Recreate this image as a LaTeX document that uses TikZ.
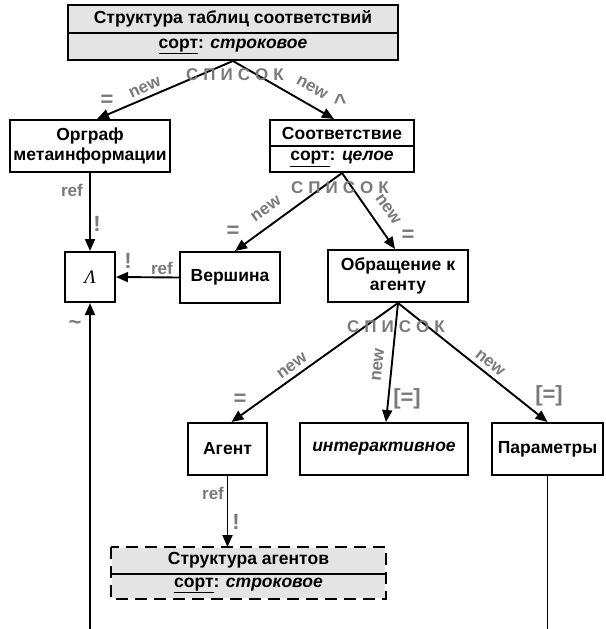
\documentclass[tikz,border=0pt]{standalone}
\usepackage{fontspec}
\setmainfont{Liberation Sans}
\newfontfamily\lamfont{Liberation Serif}
\usetikzlibrary{arrows.meta}
\definecolor{lblc}{HTML}{7A7A7A}
\definecolor{boxfill}{HTML}{E4E4E4}
\begin{document}
\begin{tikzpicture}[x=1pt,y=-1pt,
  box/.style={draw, line width=2pt, inner sep=0pt, font=\fontsize{17.5}{20}\selectfont\bfseries, align=center},
  arr/.style={line width=1.9pt, -{Triangle[length=12pt,width=10pt]}},
  ln/.style={line width=1.9pt},
  lbl/.style={text=lblc, font=\fontsize{17}{19}\selectfont\bfseries, inner sep=0pt},
  sym/.style={text=lblc, font=\fontsize{22}{24}\selectfont\bfseries, inner sep=0pt},
  spis/.style={text=lblc, font=\fontsize{17}{19}\selectfont\bfseries, inner sep=0pt},
]
\useasboundingbox (0,0) rectangle (605,629);

% nodes
\node[box, fill=boxfill, minimum width=330, minimum height=28] (t1) at (233,19) {Структура таблиц соответствий};
\node[box, fill=boxfill, minimum width=330, minimum height=27] (t2) at (233,46.5) {\underline{сорт}: \textit{строковое}};

\node[box, minimum width=160, minimum height=52] (org) at (90,146) {Орграф\\метаинформации};

\node[box, minimum width=144, minimum height=26] (s1) at (342,133) {Соответствие};
\node[box, minimum width=144, minimum height=26] (s2) at (342,159) {\underline{сорт}: \textit{целое}};

\node[box, minimum width=50, minimum height=50, font=\fontsize{19}{21}\selectfont] (lam) at (90,277) {\lamfont\itshape Λ};
\node[box, minimum width=100, minimum height=51] (ver) at (230,277.5) {Вершина};
\node[box, minimum width=140, minimum height=52] (obr) at (398,276) {Обращение к\\агенту};

\node[box, minimum width=79, minimum height=52] (ag) at (227.5,449) {Агент};
\node[box, minimum width=168, minimum height=52] (int) at (384,449) {\textit{интерактивное}};
\node[box, minimum width=111, minimum height=52] (par) at (547.5,449) {Параметры};

\node[box, draw=none, fill=boxfill, minimum width=273, minimum height=25] (sa1) at (248.5,560.5) {Структура агентов};
\node[box, draw=none, fill=boxfill, minimum width=273, minimum height=25] (sa2) at (248.5,585.5) {\underline{сорт}: \textit{строковое}};
\draw[line width=2pt, dash pattern=on 12pt off 7pt] (sa1.north west) rectangle (sa2.south east);
\draw[line width=1.4pt] (sa1.south west) -- (sa1.south east);

\coordinate (b1) at (90,629);

% connectors
\draw[arr] (t2.south) -- ([xshift=7pt]org.north);
\draw[arr] (t2.south) -- ([xshift=-8pt]s1.north);
\draw[arr] (org.south) -- (lam.north);
\draw[arr] (ver.west) -- (lam.east);
\draw[arr] (s2.south) -- ([xshift=5pt]ver.north);
\draw[arr] (s2.south) -- ([xshift=-3pt]obr.north);
\draw[arr] (obr.south) -- ([xshift=4pt]ag.north);
\draw[arr] (obr.south) -- ([xshift=2pt]int.north);
\draw[arr] (obr.south) -- (par.north);
\draw[arr] (ag.south) -- (ag.south |- sa1.north);
\draw[arr] (b1) -- (lam.south);
\draw[ln] (par.south) -- (par.south |- b1);

% labels top
\node[spis] at (235,75) {С\hspace{5pt}П\hspace{5pt}И\hspace{5pt}С\hspace{5pt}О\hspace{5pt}К};
\node[lbl, rotate=24] at (145,88) {new};
\node[sym] at (107,101) {=};
\node[lbl, rotate=-29] at (312,88) {new};
\node[sym] at (340,102) {\textasciicircum};

% labels middle
\node[spis] at (340,188) {С\hspace{5pt}П\hspace{5pt}И\hspace{5pt}С\hspace{5pt}О\hspace{5pt}К};
\node[lbl, rotate=35] at (266,209) {new};
\node[sym] at (233,232) {=};
\node[lbl, rotate=-55] at (388,209) {new};
\node[sym] at (408,236) {=};

\node[lbl] at (72,190) {ref};
\node[sym] at (97,224) {!};
\node[lbl] at (162,268) {ref};
\node[sym] at (128,261) {!};
\node[sym] at (75,325) {\textasciitilde};

% labels bottom
\node[spis] at (396,327) {С\hspace{5pt}П\hspace{5pt}И\hspace{5pt}С\hspace{5pt}О\hspace{5pt}К};
\node[lbl, rotate=36] at (292,366) {new};
\node[sym] at (240,400) {=};
\node[lbl, rotate=84] at (378,365) {new};
\node[sym] at (407,399) {[=]};
\node[lbl, rotate=-39] at (490,363) {new};
\node[sym] at (549,396) {[=]};

\node[lbl] at (213,493) {ref};
\node[sym] at (236,522) {!};
\end{tikzpicture}
\end{document}
